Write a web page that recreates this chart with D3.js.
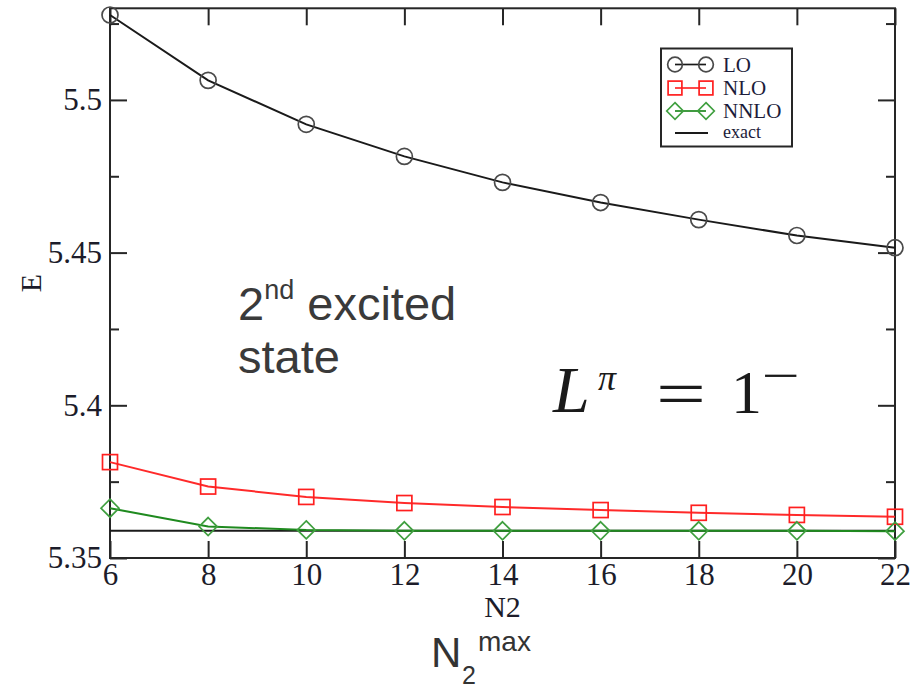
<!DOCTYPE html>
<html>
<head>
<meta charset="utf-8">
<script src="https://cdn.jsdelivr.net/npm/d3@7"></script>
<style>
  body { margin: 0; background: #fff; }
</style>
</head>
<body>
<svg id="chart" width="924" height="688"></svg>
<script>
// Basis truncation N2max and the energies at each order
const nmax  = [6, 8, 10, 12, 14, 16, 18, 20, 22];
const lo    = [5.5278, 5.5064, 5.4920, 5.4815, 5.4730, 5.4664, 5.4608, 5.4556, 5.4516];
const nlo   = [5.3814, 5.3734, 5.3700, 5.3680, 5.3667, 5.3657, 5.3648, 5.3641, 5.3635];
const nnlo  = [5.3663, 5.3603, 5.3592, 5.3589, 5.3589, 5.3589, 5.3589, 5.3589, 5.3588];
const exact = 5.3589;

const xTicks  = [6, 8, 10, 12, 14, 16, 18, 20, 22];
const yTicks  = [5.35, 5.4, 5.45, 5.5];
const yMinor  = [5.375, 5.425, 5.475, 5.525];
const yLabels = ["5.35", "5.4", "5.45", "5.5"];
const legendNames = ["LO", "NLO", "NNLO", "exact"];

const svg = d3.select("#chart");
const L = 110, R = 895, T = 8.3, B = 558;

const x = d3.scaleLinear().domain([6, 22]).range([L, R]);
const y = d3.scaleLinear().domain([5.35, 5.53]).range([B, T]);

const ink = "#262626";
const serif = '"Liberation Serif", "Times New Roman", serif';
const sans = '"Liberation Sans", Arial, sans-serif';

// axes: major ticks point inward on all four sides, minor ticks on left/right
function styleAxis(g) {
  g.attr("font-family", null).attr("font-size", null);
  g.select(".domain").remove();
  g.selectAll(".tick line").attr("stroke", ink).attr("stroke-width", 2);
  g.selectAll(".tick text").attr("fill", "#1c1c2a")
    .style("font-family", serif).style("font-size", "31px");
}

svg.append("g").attr("transform", `translate(0,${B})`)
  .call(d3.axisBottom(x).tickValues(xTicks).tickSize(-17).tickPadding(5).tickFormat(d3.format("d")))
  .call(styleAxis);
svg.append("g").attr("transform", `translate(0,${T})`)
  .call(d3.axisTop(x).tickValues(xTicks).tickSize(-17).tickFormat(""))
  .call(styleAxis);
svg.append("g").attr("transform", `translate(${L},0)`)
  .call(d3.axisLeft(y).tickValues(yTicks).tickSize(-17).tickPadding(8)
        .tickFormat((d, i) => yLabels[i]))
  .call(styleAxis);
svg.append("g").attr("transform", `translate(${L},0)`)
  .call(d3.axisLeft(y).tickValues(yMinor).tickSize(-9).tickFormat(""))
  .call(styleAxis);
svg.append("g").attr("transform", `translate(${R},0)`)
  .call(d3.axisRight(y).tickValues(yTicks).tickSize(-17).tickFormat(""))
  .call(styleAxis);
svg.append("g").attr("transform", `translate(${R},0)`)
  .call(d3.axisRight(y).tickValues(yMinor).tickSize(-9).tickFormat(""))
  .call(styleAxis);

// frame
svg.append("rect").attr("x", L).attr("y", T).attr("width", R - L).attr("height", B - T)
  .attr("fill", "none").attr("stroke", ink).attr("stroke-width", 2);

// axis titles
svg.append("text").attr("x", x(14)).attr("y", 617).attr("text-anchor", "middle")
  .attr("fill", "#1c1c2a").style("font-family", serif).style("font-size", "30px").text("N2");
svg.append("text").attr("transform", "translate(41,283) rotate(-90)").attr("text-anchor", "middle")
  .attr("fill", "#1c1c2a").style("font-family", serif).style("font-size", "30px").text("E");

// exact reference line
svg.append("line").attr("x1", x(6)).attr("x2", x(22)).attr("y1", y(exact)).attr("y2", y(exact))
  .attr("stroke", "#1a1a1a").attr("stroke-width", 2);

const series = [
  { name: "LO",   vals: lo,   line: "#1a1a1a", mark: "#4a4a4a", shape: "circle" },
  { name: "NLO",  vals: nlo,  line: "#ff2a2a", mark: "#ff1f1f", shape: "square" },
  { name: "NNLO", vals: nnlo, line: "#1f8a1f", mark: "#3f9f3f", shape: "diamond" }
];

function marker(g, shape, cx, cy, color, s) {
  if (shape === "circle") {
    g.append("circle").attr("cx", cx).attr("cy", cy).attr("r", 8 * s)
      .attr("fill", "none").attr("stroke", color).attr("stroke-width", 1.7);
  } else if (shape === "square") {
    const h = 7.5 * s;
    g.append("rect").attr("x", cx - h).attr("y", cy - h).attr("width", 2 * h).attr("height", 2 * h)
      .attr("fill", "none").attr("stroke", color).attr("stroke-width", 1.7);
  } else {
    const h = 9 * s;
    g.append("path").attr("d", `M${cx},${cy - h}L${cx + h},${cy}L${cx},${cy + h}L${cx - h},${cy}Z`)
      .attr("fill", "none").attr("stroke", color).attr("stroke-width", 1.7);
  }
}

const line = d3.line().x((d, i) => x(nmax[i])).y(d => y(d));
series.forEach(s => {
  const g = svg.append("g");
  g.append("path").attr("d", line(s.vals)).attr("fill", "none")
    .attr("stroke", s.line).attr("stroke-width", 2);
  s.vals.forEach((v, i) => marker(g, s.shape, x(nmax[i]), y(v), s.mark, 1));
});

// legend
const lg = svg.append("g");
lg.append("rect").attr("x", 661).attr("y", 48.5).attr("width", 131).attr("height", 98)
  .attr("fill", "#fff").attr("stroke", ink).attr("stroke-width", 2);
const rowsY = [64.5, 88, 111, 133];
series.forEach((s, i) => {
  lg.append("line").attr("x1", 675).attr("x2", 706).attr("y1", rowsY[i]).attr("y2", rowsY[i])
    .attr("stroke", s.line).attr("stroke-width", 1.7);
  marker(lg, s.shape, 675, rowsY[i], s.mark, 0.92);
  marker(lg, s.shape, 706, rowsY[i], s.mark, 0.92);
});
lg.append("line").attr("x1", 675).attr("x2", 708).attr("y1", rowsY[3]).attr("y2", rowsY[3])
  .attr("stroke", "#1a1a1a").attr("stroke-width", 2);
legendNames.forEach((n, i) => {
  lg.append("text").attr("x", 723).attr("y", rowsY[i] + (i === 3 ? 5 : 7))
    .attr("fill", "#1c1c3a").style("font-family", serif)
    .style("font-size", i === 3 ? "18px" : "21px").text(n);
});

// annotation: state label
const t1 = svg.append("text").attr("x", 238).attr("y", 320).attr("fill", "#3a3a3a")
  .style("font-family", sans).style("font-size", "47px");
t1.append("tspan").text("2");
t1.append("tspan").attr("dy", -21).style("font-size", "27px").text("nd");
t1.append("tspan").attr("dy", 21).text(" excited");
svg.append("text").attr("x", 238).attr("y", 373).attr("fill", "#3a3a3a")
  .style("font-family", sans).style("font-size", "47px").text("state");

// annotation: L^pi = 1^-
const mg = svg.append("g").attr("fill", "#1a1a1a").style("font-family", serif);
mg.append("text").attr("x", 553).attr("y", 412).style("font-size", "66px")
  .style("font-style", "italic").text("L");
mg.append("text").attr("x", 598).attr("y", 390).style("font-size", "36px")
  .style("font-style", "italic").text("π");
mg.append("text").attr("x", 656).attr("y", 416).style("font-size", "66px")
  .attr("textLength", 50).attr("lengthAdjust", "spacingAndGlyphs").text("=");
mg.append("text").attr("x", 731).attr("y", 413).style("font-size", "62px").text("1");
mg.append("text").attr("x", 762).attr("y", 391).style("font-size", "46px")
  .attr("textLength", 38).attr("lengthAdjust", "spacingAndGlyphs").text("−");

// horizontal-axis caption
const cap = svg.append("text").attr("fill", "#333").style("font-family", sans);
cap.append("tspan").attr("x", 431).attr("y", 667).style("font-size", "42px").text("N");
cap.append("tspan").attr("x", 462).attr("y", 684).style("font-size", "25px").text("2");
cap.append("tspan").attr("x", 478).attr("y", 651).style("font-size", "28px").text("max");
</script>
</body>
</html>
